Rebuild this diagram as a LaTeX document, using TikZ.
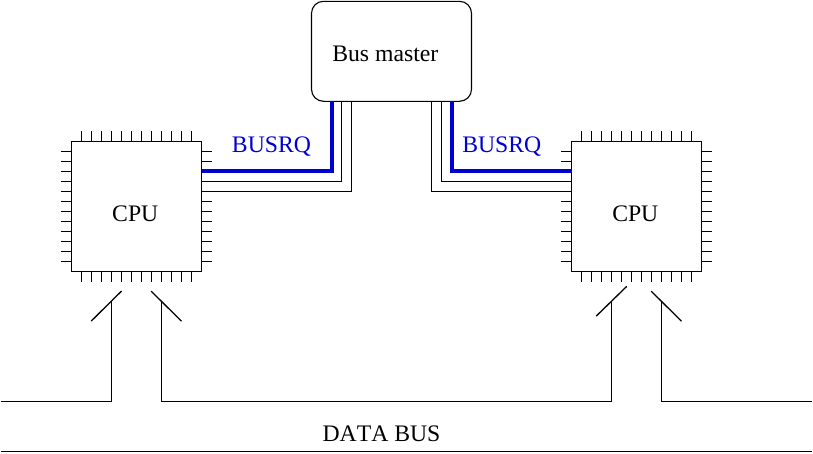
\documentclass[tikz,border=0pt]{standalone}
\usepackage{fontspec}
\setmainfont[Kerning=Off]{Liberation Serif}
\definecolor{busblue}{HTML}{0000D1}
\tikzset{
  wire/.style={line width=1.1pt,black,line cap=butt,line join=miter},
  sigwire/.style={line width=4pt,busblue,line join=miter},
  switchbar/.style={line width=1.3pt,black,line cap=round},
  chipbox/.style={draw,line width=1.1pt,rectangle,minimum width=130pt,minimum height=130pt,inner sep=0pt,outer sep=0pt},
  masterbox/.style={draw,line width=1.1pt,rectangle,rounded corners=12pt,minimum width=160pt,minimum height=100pt,inner sep=0pt,outer sep=0pt},
  lab/.style={font=\fontsize{23.7pt}{26pt}\selectfont,inner sep=0pt,anchor=base},
  siglab/.style={lab,text=busblue}
}
\begin{document}
\begin{tikzpicture}[x=1pt,y=-1pt]
\useasboundingbox (0,0) rectangle (813,453);
% boxes
\node[chipbox] (cpuL) at (136.5,206.5) {};
\node[chipbox] (cpuR) at (636.5,206.5) {};
\node[masterbox] (master) at (391.5,51.3) {};
% labels
\node[lab] (tCpuL) at (135.3,221) {CPU};
\node[lab] (tCpuR) at (635.3,221) {CPU};
\node[lab] (tMaster) at (385.3,61) {Bus master};
\node[siglab] (tReqL) at (271.5,152) {BUSRQ};
\node[siglab] (tReqR) at (501.8,152) {BUSRQ};
\node[lab] (tData) at (381.5,441) {DATA BUS};
% pins
\foreach \cx in {71.5,571.5}{
  \foreach \k in {1,...,12}{
    \draw[wire] (\cx+10*\k,131) -- (\cx+10*\k,141.5);
    \draw[wire] (\cx+10*\k,271.5) -- (\cx+10*\k,282);
    \draw[wire] (\cx-10.5,141.5+10*\k) -- (\cx,141.5+10*\k);
    \draw[wire] (\cx+130,141.5+10*\k) -- (\cx+140.5,141.5+10*\k);
  }
}
% master to CPU connectors
\coordinate (mL1) at (332,101.3);
\coordinate (mL2) at (341.5,101.3);
\coordinate (mL3) at (351.5,101.3);
\coordinate (mR3) at (431.5,101.3);
\coordinate (mR2) at (441.5,101.3);
\coordinate (mR1) at (451.5,101.3);
\coordinate (cL1) at (201.5,171);
\coordinate (cL2) at (201.5,181.5);
\coordinate (cL3) at (201.5,191.5);
\coordinate (cR1) at (571.5,171);
\coordinate (cR2) at (571.5,181.5);
\coordinate (cR3) at (571.5,191.5);
\draw[wire] (mL2) |- (cL2);
\draw[wire] (mL3) |- (cL3);
\draw[wire] (mR2) |- (cR2);
\draw[wire] (mR3) |- (cR3);
\draw[sigwire] (mL1) |- (cL1);
\draw[sigwire] (mR1) |- (cR1);
% switches
\coordinate (s1a) at (91.3,321);
\coordinate (s1b) at (121.3,291.3);
\coordinate (s2a) at (151.3,291.3);
\coordinate (s2b) at (181.3,321);
\coordinate (s3a) at (596.3,316);
\coordinate (s3b) at (626.5,286.6);
\coordinate (s4a) at (651.3,291.3);
\coordinate (s4b) at (681.3,321);
\draw[switchbar] (s1a) -- (s1b);
\draw[switchbar] (s2a) -- (s2b);
\draw[switchbar] (s3a) -- (s3b);
\draw[switchbar] (s4a) -- (s4b);
% bus wires
\coordinate (busL) at (0.5,401.5);
\coordinate (busR) at (811.5,401.5);
\coordinate (busLowL) at (0.5,451.5);
\coordinate (busLowR) at (811.5,451.5);
\draw[wire] (busL) -| (111.5,301);
\draw[wire] (161.5,301) |- (611.5,401.5) -- (611.5,301);
\draw[wire] (661.5,301) |- (busR);
\draw[wire] (busLowL) -- (busLowR);
\end{tikzpicture}
\end{document}
